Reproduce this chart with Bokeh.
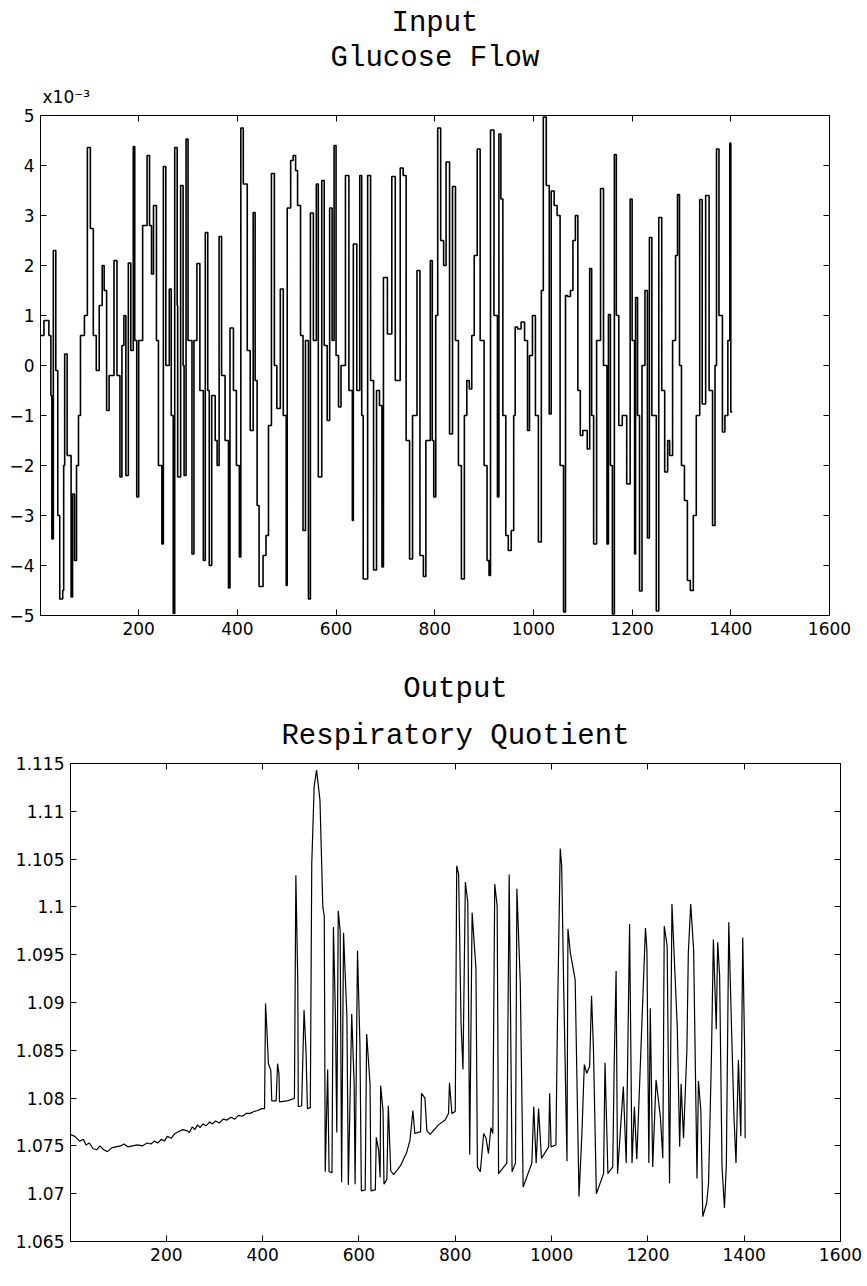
from bokeh.plotting import figure
from bokeh.models import Range1d, LinearAxis, FixedTicker, Title
from bokeh.embed import file_html
from bokeh.resources import INLINE

# ---------------- data ----------------
# Input: glucose flow (units of 1e-3), piecewise constant
glucose_t = [0, 8, 18, 22, 24, 27, 32, 36, 40, 46, 48, 50, 55, 63, 66, 70, 74, 78, 82, 90,
             96, 102, 108, 114, 120, 126, 130, 135, 140, 150, 156, 162, 166, 170, 174, 179, 184, 189, 192, 196,
             200, 208, 217, 222, 226, 230, 236, 240, 247, 250, 255, 262, 266, 270, 273, 278, 279, 285, 290, 292,
             296, 300, 308, 312, 318, 324, 331, 335, 340, 343, 348, 355, 359, 363, 368, 375, 382, 385, 392, 398,
             404, 407, 412, 420, 426, 432, 436, 440, 444, 452, 458, 463, 469, 475, 480, 487, 493, 499, 501, 508,
             513, 518, 522, 528, 533, 538, 544, 548, 554, 560, 564, 571, 576, 582, 587, 592, 596, 600, 605, 610,
             619, 626, 633, 635, 642, 648, 652, 655, 664, 670, 676, 682, 688, 693, 696, 704, 713, 720, 730, 736,
             742, 749, 755, 764, 770, 777, 782, 791, 795, 798, 802, 806, 812, 818, 823, 830, 836, 842, 848, 854,
             860, 865, 870, 875, 880, 886, 892, 900, 906, 910, 913, 920, 927, 930, 934, 938, 944, 949, 955, 960,
             963, 968, 975, 982, 988, 992, 998, 1004, 1010, 1016, 1020, 1026, 1032, 1036, 1042, 1048, 1054, 1061, 1065, 1069,
             1075, 1080, 1085, 1090, 1095, 1100, 1109, 1114, 1118, 1122, 1128, 1136, 1142, 1149, 1152, 1156, 1160, 1164, 1168, 1173,
             1180, 1189, 1196, 1200, 1205, 1207, 1211, 1215, 1220, 1226, 1231, 1235, 1240, 1249, 1254, 1260, 1266, 1272, 1276, 1282,
             1288, 1292, 1296, 1300, 1306, 1312, 1318, 1324, 1330, 1337, 1342, 1349, 1356, 1363, 1368, 1371, 1376, 1383, 1388, 1394,
             1398, 1400, 1403]
glucose_flow = [0.6, 0.9, 0.6, -0.6, -3.47, 2.3, -0.1, -3.0, -4.67, -4.5, -2.0, 0.23, -1.8, -4.63, -2.57, -3.9, -2.0, -1.0, 0.6, 1.0,
                4.36, 2.74, 0.6, -0.1, 1.2, 2.0, 1.5, -0.9, -0.2, 2.1, -0.2, -2.23, 0.4, 1.0, -2.2, 2.05, 0.3, 4.38, 0.5, -2.63,
                0.5, 2.8, 4.2, 2.8, 1.83, 3.2, 0.5, -2.0, -3.57, 3.98, 0.0, 1.53, -1.0, -4.96, 4.36, 1.2, -2.23, 3.6, 0.0, -2.2,
                4.53, 0.5, -3.77, 0.5, 2.04, -0.5, -3.9, 2.66, -0.5, -4.0, -0.6, -1.5, -2.0, 2.58, -0.2, -1.5, -4.45, 0.75, -0.5, -2.0,
                -3.83, 4.75, 3.63, 0.3, -1.3, 3.06, -0.3, -2.8, -4.42, -3.8, -3.4, -1.2, 3.84, 0.0, -0.86, 1.53, -1.0, -4.4, 3.15, 4.1,
                4.2, 3.9, 3.2, 0.6, -3.3, 0.5, -4.67, 3.05, 0.5, 3.63, -2.23, 3.7, 0.4, -1.1, 3.15, 0.5, 4.4, 0.2, -0.83, 0.0,
                3.8, -0.5, -3.1, 2.43, -0.5, 3.8, -1.0, -4.27, 3.8, -0.3, -4.09, -0.5, -0.8, -4.03, 1.76, 0.63, 3.78, -0.3, 3.95, 3.8,
                -1.5, -3.87, -1.0, 1.9, -3.8, -4.22, -1.5, 2.1, -1.5, -2.63, 1.0, 4.75, 2.5, 2.0, 4.07, -1.37, 3.58, 0.5, -2.0, -4.27,
                -1.0, -0.3, -0.47, 0.6, 2.2, 4.33, 0.5, -2.0, -3.9, -4.2, 4.71, 1.0, -2.63, 4.63, 3.33, -1.0, -3.4, -3.7, -3.3, -1.0,
                0.77, 0.73, 0.87, 0.5, -1.3, 0.2, 1.0, -1.0, -3.53, 1.5, 4.97, 3.6, -0.97, 3.49, 3.2, 3.0, -2.0, -4.93, 1.4, 1.38,
                1.5, 2.5, 3.0, -0.5, -1.4, -1.3, -1.67, 1.94, -1.0, -3.57, 0.5, 3.54, 0.0, -3.57, 1.02, -2.0, -4.97, 4.22, 1.0, -1.2,
                -1.0, -2.37, 3.33, 0.5, -3.77, 1.36, -1.0, -4.51, 0.0, 1.5, -3.45, 2.56, -1.0, -4.91, 2.96, -0.5, -2.13, -1.5, -1.8, 0.5,
                2.2, 3.42, 0.0, -2.0, -2.7, -4.3, -4.5, -3.0, -1.0, 3.32, -0.77, 3.4, -0.5, -3.2, 0.0, 4.33, 1.0, -1.33, -1.0, 0.5,
                4.45, -0.93, -0.93]

# Output: respiratory quotient
rq_t = [0, 10, 20, 28, 33, 40, 48, 56, 62, 70, 78, 86, 95, 105, 112, 120, 130, 140, 150, 160,
        168, 175, 182, 190, 196, 202, 210, 218, 226, 234, 242, 248, 254, 259, 265, 270, 276, 282, 290, 296,
        302, 310, 318, 326, 334, 342, 350, 358, 366, 374, 382, 390, 398, 404, 406, 409, 412, 417, 419, 428,
        431, 434, 435, 450, 462, 466, 469, 473, 474, 481, 486, 490, 493, 499, 502, 507, 512, 519, 525, 528,
        530, 535, 538, 544, 547, 551, 554, 557, 561, 564, 568, 575, 578, 585, 590, 592, 597, 602, 605, 613,
        616, 623, 625, 634, 636, 641, 644, 645, 650, 652, 658, 661, 666, 672, 686, 699, 706, 712, 716, 728,
        730, 737, 741, 748, 765, 779, 786, 788, 793, 800, 803, 807, 812, 816, 821, 826, 830, 835, 843, 846,
        852, 859, 864, 869, 874, 878, 882, 887, 890, 907, 912, 918, 925, 928, 935, 941, 959, 963, 968, 973,
        979, 994, 996, 999, 1009, 1012, 1018, 1021, 1025, 1032, 1034, 1039, 1049, 1057, 1063, 1068, 1073, 1079, 1083, 1087,
        1093, 1108, 1111, 1117, 1127, 1130, 1134, 1137, 1149, 1155, 1162, 1167, 1172, 1177, 1195, 1198, 1202, 1205, 1210, 1217,
        1226, 1231, 1234, 1240, 1245, 1250, 1261, 1266, 1269, 1274, 1281, 1284, 1289, 1295, 1302, 1305, 1310, 1314, 1322, 1326,
        1332, 1336, 1342, 1345, 1349, 1354, 1359, 1363, 1368, 1373, 1379, 1383, 1388, 1393, 1397, 1401, 1402]
rq = [1.0762, 1.0760, 1.0755, 1.0757, 1.0751, 1.0753, 1.0747, 1.0746, 1.0750, 1.0746, 1.0744, 1.0748, 1.0749, 1.0750, 1.0752, 1.0749, 1.0750, 1.0751, 1.0750, 1.0753,
      1.0752, 1.0755, 1.0753, 1.0757, 1.0755, 1.0760, 1.0758, 1.0763, 1.0765, 1.0767, 1.0766, 1.0764, 1.0770, 1.0767, 1.0772, 1.0769, 1.0773, 1.0771, 1.0775, 1.0773,
      1.0776, 1.0774, 1.0778, 1.0777, 1.0780, 1.0778, 1.0782, 1.0781, 1.0784, 1.0784, 1.0786, 1.0787, 1.0789, 1.0789, 1.0899, 1.0870, 1.0836, 1.0829, 1.0797, 1.0797,
      1.0836, 1.0825, 1.0796, 1.0797, 1.0799, 1.0800, 1.1033, 1.0920, 1.0791, 1.0792, 1.0892, 1.0850, 1.0789, 1.0790, 1.1045, 1.1126, 1.1143, 1.1112, 1.1000, 1.0990,
      1.0723, 1.0830, 1.0723, 1.0722, 1.0979, 1.0890, 1.0764, 1.0996, 1.0975, 1.0712, 1.0973, 1.0885, 1.0709, 1.0888, 1.0815, 1.0710, 1.0954, 1.0857, 1.0703, 1.0704,
      1.0867, 1.0815, 1.0703, 1.0704, 1.0759, 1.0745, 1.0717, 1.0813, 1.0787, 1.0710, 1.0715, 1.0792, 1.0724, 1.0720, 1.0729, 1.0743, 1.0756, 1.0787, 1.0763, 1.0765,
      1.0805, 1.0800, 1.0766, 1.0762, 1.0772, 1.0777, 1.0784, 1.0816, 1.0784, 1.0786, 1.1043, 1.1034, 1.0879, 1.0830, 1.1026, 1.1005, 1.0741, 1.0994, 1.0935, 1.0728,
      1.0723, 1.0763, 1.0758, 1.0742, 1.0769, 1.0763, 1.1024, 1.1001, 1.0721, 1.0732, 1.1034, 1.0723, 1.0732, 1.1019, 1.0921, 1.0707, 1.0732, 1.0791, 1.0732, 1.0789,
      1.0737, 1.0749, 1.0805, 1.0749, 1.0751, 1.0872, 1.1061, 1.1043, 1.0921, 1.0734, 1.0977, 1.0952, 1.0924, 1.0697, 1.0763, 1.0835, 1.0826, 1.0833, 1.0907, 1.0851,
      1.0700, 1.0721, 1.0837, 1.0721, 1.0728, 1.0833, 1.0933, 1.0721, 1.0812, 1.0732, 1.0982, 1.0732, 1.0791, 1.0736, 1.0978, 1.0955, 1.0732, 1.0894, 1.0728, 1.0819,
      1.0780, 1.0737, 1.0980, 1.0959, 1.0711, 1.1003, 1.0875, 1.0749, 1.0815, 1.0758, 1.0850, 1.0952, 1.1003, 1.0955, 1.0716, 1.0818, 1.0787, 1.0676, 1.0690, 1.0711,
      1.0844, 1.0966, 1.0872, 1.0963, 1.0928, 1.0728, 1.0685, 1.0732, 1.0984, 1.0886, 1.0778, 1.0732, 1.0840, 1.0760, 1.0968, 1.0848, 1.0758]

x_ticks = [200, 400, 600, 800, 1000, 1200, 1400, 1600]
glucose_ticks = [-5, -4, -3, -2, -1, 0, 1, 2, 3, 4, 5]
rq_ticks = [1.065, 1.07, 1.075, 1.08, 1.085, 1.09, 1.095, 1.1, 1.105, 1.11, 1.115]
rq_tick_labels = ["1.065", "1.07", "1.075", "1.08", "1.085", "1.09", "1.095", "1.1", "1.105", "1.11", "1.115"]

TICK_FONT = "DejaVu Sans"
TITLE_FONT = "Liberation Mono"


def style_axis(ax, ticks, labels=True):
    ax.ticker = FixedTicker(ticks=ticks)
    ax.major_tick_in = 6
    ax.major_tick_out = 0
    ax.minor_tick_in = 0
    ax.minor_tick_out = 0
    ax.axis_line_color = "black"
    ax.axis_line_width = 1
    ax.major_tick_line_color = "black"
    ax.major_label_text_color = "black"
    ax.major_label_text_font = TICK_FONT
    ax.major_label_text_font_size = "17px"
    ax.major_label_standoff = 6
    if not labels:
        ax.major_label_text_color = None
        ax.major_label_text_font_size = "1px"
        ax.major_label_standoff = 0


def make_fig(width, height, x_range, y_range, borders):
    p = figure(width=width, height=height, x_range=x_range, y_range=y_range,
               output_backend="svg", toolbar_location=None,
               min_border_left=borders[0], min_border_right=borders[1],
               min_border_top=borders[2], min_border_bottom=borders[3])
    p.xgrid.visible = False
    p.ygrid.visible = False
    p.outline_line_color = "black"
    p.background_fill_color = "white"
    p.border_fill_color = "white"
    return p


def add_frame_axes(p, xt, yt):
    top_ax = LinearAxis()
    style_axis(top_ax, xt, labels=False)
    p.add_layout(top_ax, "above")
    right_ax = LinearAxis()
    style_axis(right_ax, yt, labels=False)
    p.add_layout(right_ax, "right")


def add_title(p, text, size, standoff, align="center", offset=0, font=TITLE_FONT):
    p.add_layout(Title(text=text, align=align, offset=offset, standoff=standoff,
                       text_font=font, text_font_size=size, text_font_style="normal",
                       text_color="black"), "above")


# ---------------- top: input ----------------
p1 = make_fig(867, 645, Range1d(1, 1600), Range1d(-5, 5), (40, 38, 115, 30))
p1.step(glucose_t, glucose_flow, mode="after", line_color="black", line_width=1.6)
style_axis(p1.xaxis[0], x_ticks)
style_axis(p1.yaxis[0], glucose_ticks)
add_frame_axes(p1, x_ticks, glucose_ticks)
add_title(p1, "x10\u207b\u00b3", "17px", 17, align="left", offset=2, font=TICK_FONT)
add_title(p1, "Glucose Flow", "29px", 4, offset=-22)
add_title(p1, "Input", "29px", -4, offset=-22)

# ---------------- bottom: output ----------------
p2 = make_fig(867, 641, Range1d(1, 1600), Range1d(1.065, 1.115), (70, 27, 118, 45))
p2.line(rq_t, rq, line_color="black", line_width=1.2)
style_axis(p2.xaxis[0], x_ticks)
style_axis(p2.yaxis[0], rq_ticks)
p2.yaxis[0].major_label_overrides = dict(zip(rq_ticks, rq_tick_labels))
add_frame_axes(p2, x_ticks, rq_ticks)
add_title(p2, "Respiratory Quotient", "29px", 21, offset=-15)
add_title(p2, "Output", "29px", 4, offset=-15)

open("out.html", "w").write(file_html([p1, p2], INLINE))
